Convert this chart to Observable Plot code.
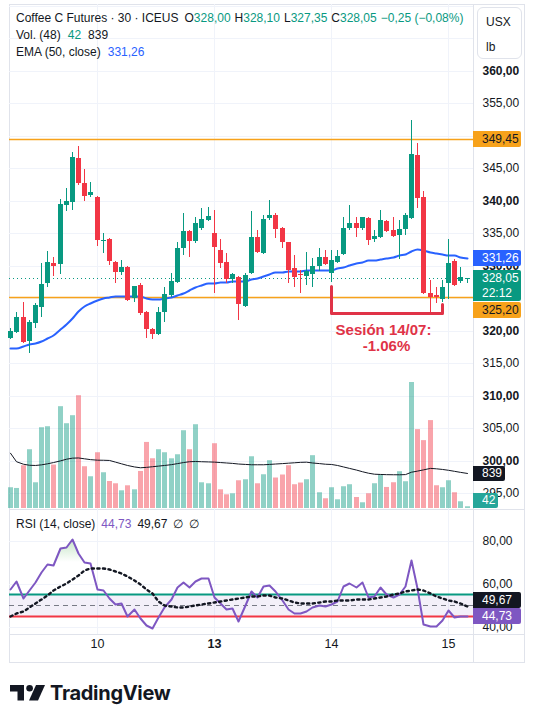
<!DOCTYPE html>
<html lang="es">
<head>
<meta charset="utf-8">
<title>Coffee C Futures · 30 · ICEUS</title>
<script src="https://cdn.jsdelivr.net/npm/d3@7"></script>
<script src="https://cdn.jsdelivr.net/npm/@observablehq/plot@0.6"></script>
<style>
  html, body { margin: 0; background: #fff; }
  #chart { position: relative; width: 535px; height: 709px; overflow: hidden; background: #fff;
    font-family: "Liberation Sans", Arial, sans-serif; color: #131722; }
  .layer { position: absolute; left: 0; width: 535px; }
  .layer svg { display: block; max-width: none; }
  .rule { position: absolute; background: #e0e3eb; }
  .legend { position: absolute; left: 16px; font-size: 12px; line-height: 14px; white-space: nowrap; }
  .legend .gap { margin-left: 7px; }
  .legend.tight .gap { margin-left: 4px; }
  .legend.tight .gap.first { margin-left: 6px; }
  .legend.rsi .gap { margin-left: 6px; }
  .up { color: #089981; }
  .tag { position: absolute; left: 473px; font-size: 12px; box-sizing: border-box; padding-left: 9px;
    border-radius: 0 2px 2px 0; white-space: nowrap; }
  #unit { position: absolute; left: 477px; top: 7px; width: 45px; height: 52px; box-sizing: border-box;
    border: 1px solid #e0e3eb; border-radius: 6px; font-size: 12px; padding-left: 8px; line-height: 25px; padding-top: 2px; }
  #brand { position: absolute; left: 10px; top: 681px; display: flex; align-items: center; }
  #brand span { font-family: Inter, "Liberation Sans", sans-serif; font-weight: 700; font-size: 20px;
    letter-spacing: -0.3px; margin-left: 5px; color: #131722; }
</style>
</head>
<body>
<div id="chart"></div>
<script>
// ---- 30-minute bars, Coffee C (ICEUS) ----
const opens = [318.85, 319.80, 322.10, 318.40, 321.20, 323.65, 327.35, 330.40, 330.25, 339.35,
  339.80, 346.60, 342.75, 340.90, 340.60, 333.80, 334.10, 330.55, 329.05, 329.80,
  325.00, 327.05, 322.85, 320.25, 319.50, 322.85, 325.50, 327.50, 332.75, 335.35,
  333.80, 335.80, 337.05, 335.05, 332.40, 330.60, 327.95, 328.25, 323.80, 328.90,
  334.40, 332.00, 337.35, 337.80, 335.80, 333.65, 329.65, 328.70, 328.40, 328.70,
  329.95, 331.35, 328.90, 330.55, 331.80, 335.80, 336.60, 335.80, 337.35, 334.10,
  334.40, 336.90, 335.50, 334.75, 335.65, 337.35, 347.05, 340.60, 325.80, 325.50,
  324.85, 327.35, 330.75, 327.65, 328.00];
const highs = [320.40, 322.85, 324.40, 321.65, 324.25, 330.40, 332.25, 331.35, 340.30, 341.95,
  347.50, 348.45, 344.90, 342.90, 340.75, 335.05, 334.25, 330.75, 330.90, 329.95,
  326.85, 327.35, 323.00, 320.40, 323.65, 326.70, 328.90, 333.65, 338.10, 335.50,
  337.50, 338.90, 339.05, 338.60, 334.10, 331.95, 328.90, 328.40, 328.90, 338.45,
  335.50, 337.80, 340.10, 338.10, 335.95, 333.65, 331.65, 329.35, 332.10, 331.20,
  332.75, 332.40, 332.40, 332.40, 337.50, 339.35, 337.50, 337.50, 337.50, 335.50,
  338.60, 337.05, 337.50, 337.05, 338.10, 352.45, 348.90, 341.50, 327.80, 326.70,
  327.80, 334.10, 331.05, 329.80, 328.10];
const lows = [318.70, 319.65, 318.10, 316.55, 320.40, 322.10, 326.70, 328.40, 328.70, 338.45,
  338.60, 342.45, 339.95, 340.60, 333.05, 331.95, 330.10, 327.35, 328.55, 324.55,
  324.40, 322.40, 318.85, 318.70, 319.30, 321.35, 325.20, 327.35, 331.65, 331.35,
  333.50, 335.50, 336.90, 325.80, 329.65, 327.35, 327.35, 321.65, 323.65, 328.70,
  331.95, 331.80, 337.05, 334.25, 332.75, 327.35, 326.70, 325.80, 327.05, 326.70,
  329.20, 330.10, 327.50, 330.40, 331.65, 335.50, 334.40, 335.50, 333.20, 333.65,
  334.25, 335.20, 334.40, 331.05, 334.75, 337.20, 338.90, 325.65, 322.70, 324.25,
  324.40, 324.85, 326.85, 327.35, 327.35];
const closes = [319.95, 322.10, 318.25, 321.35, 323.95, 327.20, 330.55, 329.95, 339.50, 339.95,
  346.75, 342.75, 340.75, 341.35, 333.95, 333.95, 330.75, 329.05, 329.80, 324.70,
  326.85, 322.70, 320.25, 319.50, 322.85, 325.65, 327.65, 332.75, 335.35, 333.80,
  336.50, 337.20, 337.65, 332.90, 330.40, 327.95, 328.70, 324.10, 328.55, 334.40,
  332.10, 337.20, 337.80, 335.65, 333.65, 329.35, 328.25, 328.55, 329.20, 329.95,
  331.35, 330.25, 330.90, 331.50, 335.80, 336.60, 335.80, 337.50, 333.95, 334.60,
  337.05, 335.35, 334.60, 335.65, 337.80, 347.20, 340.45, 325.80, 325.20, 325.20,
  326.70, 330.40, 327.05, 328.30, 328.05];
const volumes = [497, 480, 1024, 1407, 616, 1934, 1958, 1040, 2438, 2030,
  2222, 2701, 1000, 760, 1335, 856, 647, 592, 424, 544,
  448, 887, 1582, 1191, 1407, 1335, 1190, 1287, 1862, 1407,
  2006, 616, 592, 1551, 448, 328, 352, 664, 688, 1239,
  592, 808, 1145, 730, 802, 1025, 569, 610, 689, 1265,
  377, 233, 497, 209, 521, 569, 264, 137, 353, 593,
  802, 504, 617, 881, 641, 3017, 1889, 1625, 2105, 545,
  497, 665, 377, 161, 42];
const volumeMA = [1324, 1120, 1060, 1035, 1030, 1045, 1070, 1100, 1140, 1180,
  1205, 1210, 1190, 1170, 1157, 1155, 1150, 1110, 1070, 1030,
  995, 975, 985, 1000, 1015, 1030, 1050, 1075, 1100, 1120,
  1125, 1120, 1115, 1110, 1100, 1090, 1080, 1065, 1055, 1047,
  1047, 1047, 1055, 1065, 1075, 1085, 1095, 1105, 1109, 1090,
  1075, 1060, 1054, 1030, 995, 960, 920, 880, 845, 821,
  815, 810, 808, 807, 812, 869, 895, 925, 960, 950,
  935, 915, 890, 865, 839];
const ema50 = [317.3, 317.4, 317.6, 317.9, 318.1, 318.4, 318.8, 319.4, 320.2, 321.1,
  322.0, 323.0, 323.8, 324.3, 324.7, 325.0, 325.2, 325.3, 325.4, 325.4,
  325.4, 325.3, 325.1, 324.9, 324.9, 325.0, 325.2, 325.5, 325.8, 326.3,
  326.7, 327.0, 327.3, 327.4, 327.5, 327.5, 327.6, 327.6, 327.7, 327.9,
  328.1, 328.4, 328.7, 329.0, 329.1, 329.2, 329.2, 329.2, 329.3, 329.3,
  329.3, 329.3, 329.4, 329.6, 329.8, 330.1, 330.4, 330.6, 330.8, 330.9,
  331.0, 331.2, 331.4, 331.6, 331.8, 332.3, 332.6, 332.4, 332.1, 331.9,
  331.8, 331.7, 331.6, 331.4, 331.26];
const rsiValues = [57.4, 61.2, 53.1, 57.0, 60.9, 65.5, 69.1, 68.6, 76.4, 76.9,
  80.7, 74.0, 70.2, 69.7, 57.3, 57.0, 53.1, 50.3, 51.1, 44.9,
  48.1, 43.8, 40.7, 39.5, 44.6, 49.2, 52.6, 58.2, 60.9, 58.5,
  61.2, 62.4, 62.7, 53.6, 50.8, 48.0, 48.4, 42.6, 50.0, 56.7,
  53.9, 59.0, 59.5, 56.3, 52.3, 48.0, 46.4, 46.1, 47.4, 48.9,
  50.0, 49.5, 50.3, 52.0, 58.8, 60.1, 58.2, 60.9, 53.6, 54.2,
  58.5, 55.1, 53.6, 55.1, 58.8, 70.9, 57.8, 41.0, 40.4, 40.2,
  43.0, 47.7, 44.3, 44.9, 44.73];
const rsiMA = [44.9, 46.3, 47.4, 48.9, 50.8, 52.6, 54.5, 56.8, 58.8, 60.4,
  62.1, 64.1, 66.3, 67.2, 67.4, 67.4, 66.9, 66.0, 64.9, 63.7,
  61.6, 59.8, 57.6, 55.4, 52.0, 50.2, 49.4, 49.1, 49.2, 49.5,
  50.0, 50.6, 51.1, 51.6, 52.0, 52.3, 52.9, 53.4, 53.9, 54.2,
  54.3, 54.5, 54.7, 53.9, 53.1, 52.3, 51.2, 50.8, 50.8, 51.1,
  51.6, 51.9, 52.0, 52.2, 52.3, 52.5, 52.6, 52.8, 52.9, 53.3,
  53.9, 54.3, 55.0, 55.4, 56.4, 57.0, 57.3, 57.0, 55.4, 54.2,
  53.1, 52.3, 51.7, 50.9, 49.67];

// session starts (bar index) and their day labels
const sessionStarts = [14, 33, 52, 71];
const sessionLabels = ["10", "13", "14", "15"];
const weekStartLabel = "13";

// price scale labels (325,00 sits fully under the last-price tags, so it is left out)
const priceTicks = [295, 300, 305, 310, 315, 320, 330, 335, 340, 345, 350, 355, 360];
const gridPrices = [295, 300, 305, 310, 315, 320, 325, 330, 335, 340, 345, 350, 355, 360, 365, 370];
const rsiTicks = [40, 60, 80];
const priceLevels = [349.45, 325.20];
const lastPrice = 328.05;
const countdown = "22:12";
const rsiBands = {upper: 55, middle: 50, lower: 45, overbought: 70};

// session 14/07 bracket
const bracketX = [52, 52, 70, 70];
const bracketY = [326.9, 322.65, 322.65, 324.1];
const noteLines = ["Sesión 14/07:", "-1.06%"];
const noteX = [60.5, 61];
const noteY = [320.1, 317.65];

const UP = "#089981", DN = "#f23645", GRID = "#f0f3fa", INK = "#131722";
const NOTE = "#e03347", ORANGE = "#f7a21b", BLUE = "#2962ff", PURPLE = "#7e57c2";
const FONT = '"Liberation Sans", Arial, sans-serif';
const fmt2 = v => v.toFixed(2).replace(".", ",");

const bars = opens.map((o, i) => ({
  i, o, h: highs[i], l: lows[i], c: closes[i],
  v: volumes[i], vma: volumeMA[i], ema: ema50[i], rsi: rsiValues[i], rsiMa: rsiMA[i]
}));
const tone = d => d.c >= d.o ? UP : DN;

const chart = document.getElementById("chart");
const xOpts = {domain: [0, 74], range: [10.2, 466.5], axis: null, round: true};
const priceY = {domain: [295, 360], range: [493.2, 70.7], axis: null, round: true};
const pane = {
  width: 535, height: 510, marginLeft: 9, marginRight: 62, marginTop: 4, marginBottom: 0,
  color: {type: "identity"},
  style: {background: "transparent", fontFamily: FONT, fontSize: "12px", overflow: "visible"}
};

function layer(node, top) {
  const div = document.createElement("div");
  div.className = "layer";
  div.style.top = top + "px";
  div.appendChild(node);
  chart.appendChild(div);
  return node;
}
function rule(left, top, w, h) {
  const el = document.createElement("div");
  el.className = "rule";
  Object.assign(el.style, {left: left + "px", top: top + "px", width: w + "px", height: h + "px"});
  chart.appendChild(el);
}

// chart frame and pane separators
rule(9, 4, 516, 1);
rule(9, 4, 1, 659);
rule(524, 4, 1, 659);
rule(9, 662, 516, 1);
rule(473, 4, 1, 659);
rule(9, 509, 516, 1);
rule(9, 634, 516, 1);

// price pane grid (drawn under the volume histogram)
layer(Plot.plot({
  ...pane, x: xOpts, y: priceY,
  marks: [
    Plot.gridY(gridPrices, {stroke: GRID, strokeOpacity: 1}),
    Plot.gridX(sessionStarts, {stroke: GRID, strokeOpacity: 1})
  ]
}), 0);

// volume histogram with its 48-bar average
const volPlot = layer(Plot.plot({
  ...pane, x: xOpts,
  y: {domain: [0, 3000], range: [508, 382.7], axis: null},
  marks: [
    Plot.ruleX(bars, {x: "i", y1: 0, y2: "v", stroke: tone, strokeOpacity: 0.45, strokeWidth: 5}),
    Plot.line(bars, {x: "i", y: "vma", stroke: INK, strokeWidth: 1})
  ]
}), 0);

// candles, EMA, levels, annotation, price scale
const pricePlot = layer(Plot.plot({
  ...pane, x: xOpts, y: priceY,
  marks: [
    Plot.ruleY(priceLevels, {stroke: ORANGE, strokeWidth: 1.5}),
    Plot.ruleY([lastPrice], {stroke: UP, strokeDasharray: "1,3", strokeWidth: 1}),
    Plot.line(bars, {x: "i", y: "ema", stroke: BLUE, strokeWidth: 2, curve: "monotone-x"}),
    Plot.ruleX(bars, {x: "i", y1: "l", y2: "h", stroke: tone, strokeWidth: 1}),
    Plot.ruleX(bars, {
      x: "i",
      y1: d => Math.min(d.o, d.c),
      y2: d => Math.max(d.o, d.c, Math.min(d.o, d.c) + 0.16),
      stroke: tone, strokeWidth: 5
    }),
    Plot.line(bracketX.map((x, k) => ({x, y: bracketY[k]})), {x: "x", y: "y", stroke: NOTE, strokeWidth: 3}),
    Plot.text(noteLines, {
      x: (d, k) => noteX[k], y: (d, k) => noteY[k], text: d => d,
      fill: NOTE, fontSize: 15, fontWeight: "bold"
    }),
    Plot.text(priceTicks.filter(t => t % 10 === 0), {
      y: d => d, text: fmt2, frameAnchor: "right", dx: 9, textAnchor: "start",
      fontWeight: "bold", fontSize: 12, fill: INK
    }),
    Plot.text(priceTicks.filter(t => t % 10 !== 0), {
      y: d => d, text: fmt2, frameAnchor: "right", dx: 9, textAnchor: "start",
      fontSize: 12, fill: INK
    })
  ]
}), 0);

// RSI pane
const RSI_TOP = 510;
const rsiPlot = layer(Plot.plot({
  width: 535, height: 153, marginLeft: 9, marginRight: 62, marginTop: 0, marginBottom: 29,
  color: {type: "identity"},
  style: {background: "transparent", fontFamily: FONT, fontSize: "12px", overflow: "visible"},
  x: xOpts,
  y: {domain: [40, 80], range: [116.5, 30.5], axis: null, round: true},
  marks: [
    Plot.gridY(rsiTicks, {stroke: GRID, strokeOpacity: 1}),
    Plot.gridX(sessionStarts, {stroke: GRID, strokeOpacity: 1}),
    Plot.rect([rsiBands], {x1: -0.17, x2: 75.05, y1: "lower", y2: "upper", fill: PURPLE, fillOpacity: 0.09}),
    Plot.ruleY([rsiBands.middle], {stroke: "#787b86", strokeDasharray: "5,4", strokeWidth: 1}),
    Plot.ruleY([rsiBands.upper], {stroke: UP, strokeWidth: 2}),
    Plot.ruleY([rsiBands.lower], {stroke: DN, strokeWidth: 2}),
    Plot.areaY(bars, {
      x: "i", y1: rsiBands.overbought, y2: d => Math.max(d.rsi, rsiBands.overbought),
      fill: "url(#rsiOverbought)"
    }),
    Plot.line(bars, {x: "i", y: "rsi", stroke: PURPLE, strokeWidth: 2}),
    Plot.line(bars, {x: "i", y: "rsiMa", stroke: INK, strokeWidth: 2.4, strokeDasharray: "2.2,3.4"}),
    Plot.text(rsiTicks, {
      y: d => d, text: fmt2, frameAnchor: "right", dx: 9, textAnchor: "start", fontSize: 12, fill: INK
    }),
    Plot.text(sessionStarts, {
      x: d => d, text: (d, k) => sessionLabels[k], filter: (d, k) => sessionLabels[k] !== weekStartLabel,
      frameAnchor: "bottom", dy: 13, fontSize: 12.5, fill: INK
    }),
    Plot.text(sessionStarts, {
      x: d => d, text: (d, k) => sessionLabels[k], filter: (d, k) => sessionLabels[k] === weekStartLabel,
      frameAnchor: "bottom", dy: 13, fontSize: 12.5, fontWeight: "bold", fill: INK
    })
  ]
}), RSI_TOP);

// gradient for the overbought fill
{
  const yR = rsiPlot.scale("y");
  const g = d3.select(rsiPlot).insert("defs", ":first-child")
    .append("linearGradient").attr("id", "rsiOverbought")
    .attr("gradientUnits", "userSpaceOnUse")
    .attr("x1", 0).attr("x2", 0).attr("y1", yR.apply(100)).attr("y2", yR.apply(rsiBands.overbought));
  g.append("stop").attr("offset", 0).attr("stop-color", "#4caf50").attr("stop-opacity", 0.9);
  g.append("stop").attr("offset", 1).attr("stop-color", "#4caf50").attr("stop-opacity", 0);
}

// value tags on the right scale
function tag(top, height, width, bg, color, html) {
  const el = document.createElement("div");
  el.className = "tag";
  Object.assign(el.style, {
    top: top + "px", height: height + "px", width: width + "px",
    background: bg, color, lineHeight: (html.includes("<br>") ? 15 : height) + "px"
  });
  if (html.includes("<br>")) el.style.paddingTop = "1px";
  el.innerHTML = html;
  chart.appendChild(el);
  return el;
}
const py = v => pricePlot.scale("y").apply(v);
const vy = v => volPlot.scale("y").apply(v);
const ry = v => RSI_TOP + rsiPlot.scale("y").apply(v);

tag(py(priceLevels[0]) - 8, 16, 48, ORANGE, INK, fmt2(priceLevels[0]));
tag(py(ema50[74]) - 8, 16, 48, BLUE, "#fff", fmt2(ema50[74]));
const lastTop = py(lastPrice) - 8;
tag(lastTop, 31, 48, UP, "#fff", fmt2(lastPrice) + "<br>" + countdown);
tag(Math.max(py(priceLevels[1]) - 8, lastTop + 32), 16, 48, ORANGE, INK, fmt2(priceLevels[1]));

tag(vy(volumeMA[74]) - 7, 15, 32, INK, "#fff", String(volumeMA[74]));
tag(Math.min(vy(volumes[74]) - 7, 493), 15, 25, "#26a69a", "#fff", String(volumes[74]));

const rsiTagTop = ry(rsiValues[74]) - 8;
tag(rsiTagTop, 16, 48, PURPLE, "#fff", fmt2(rsiValues[74]));
tag(Math.min(ry(rsiMA[74]) - 8, rsiTagTop - 16), 16, 48, INK, "#fff", fmt2(rsiMA[74]));

// unit box
const unit = document.createElement("div");
unit.id = "unit";
unit.innerHTML = "USX<br>lb";
chart.appendChild(unit);

// legends
function legend(top, html, cls = "") {
  const el = document.createElement("div");
  el.className = "legend " + cls;
  el.style.top = top + "px";
  el.innerHTML = html;
  chart.appendChild(el);
}
const last = bars[74];
const change = last.c - bars[73].c;
const pct = change / bars[73].c * 100;
const sgn = v => (v < 0 ? "−" : "") + Math.abs(v).toFixed(2).replace(".", ",");
legend(11, `Coffee C Futures · 30 · ICEUS` +
  `<span class="gap first">O<span class="up">${fmt2(last.o)}</span></span>` +
  `<span class="gap">H<span class="up">${fmt2(last.h)}</span></span>` +
  `<span class="gap">L<span class="up">${fmt2(last.l)}</span></span>` +
  `<span class="gap">C<span class="up">${fmt2(last.c)}</span></span>` +
  `<span class="gap up">${sgn(change)} (${sgn(pct)}%)</span>`, "tight");
legend(28, `Vol. (48)<span class="gap up">${volumes[74]}</span><span class="gap">${volumeMA[74]}</span>`);
legend(45, `EMA (50, close)<span class="gap" style="color:${BLUE}">${fmt2(ema50[74])}</span>`);
legend(517, `RSI (14, close)<span class="gap" style="color:${PURPLE}">${fmt2(rsiValues[74])}</span>` +
  `<span class="gap">${fmt2(rsiMA[74])}</span><span class="gap">∅</span><span class="gap">∅</span>`, "rsi");

// brand
const brand = document.createElement("div");
brand.id = "brand";
brand.innerHTML = `<svg width="35" height="16" viewBox="0 0 35 16" aria-hidden="true">
  <path d="M0 0H14V15.5H7.5V6.5H0Z" fill="${INK}"/>
  <circle cx="19.6" cy="3.3" r="3.3" fill="${INK}"/>
  <path d="M26 0H35L28 15.5H19Z" fill="${INK}"/></svg><span>TradingView</span>`;
chart.appendChild(brand);
</script>
</body>
</html>
